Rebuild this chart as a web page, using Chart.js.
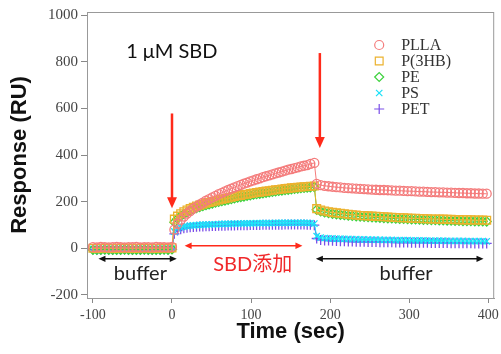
<!DOCTYPE html>
<html>
<head>
<meta charset="utf-8">
<script src="https://cdn.jsdelivr.net/npm/chart.js@4.4.1/dist/chart.umd.min.js"></script>
<style>
  html, body { margin: 0; padding: 0; background: #fff; }
  #wrap { width: 501px; height: 354px; }
</style>
</head>
<body>
<div id="wrap"><canvas id="spr"></canvas></div>
<script>
// time points (sec): buffer baseline, SBD injection, buffer wash
const timeSec = [
  -100, -95, -90, -85, -80, -75, -70, -65, -60, -55, -50, -45, -40, -35, -30, -25, -20, -15, -10, -5, 0,
  3, 7, 11, 15, 19, 23, 27, 31, 35, 39, 43, 47, 51, 55, 59, 63, 67, 71, 75, 79, 83, 87, 91, 95, 99,
  103, 107, 111, 115, 119, 123, 127, 131, 135, 139, 143, 147, 151, 155, 159, 163, 167, 171, 175, 180,
  183, 188, 193, 198, 203, 208, 213, 218, 223, 228, 233, 238, 243, 248, 253, 258, 263, 268, 273, 278,
  283, 288, 293, 298, 303, 308, 313, 318, 323, 328, 333, 338, 343, 348, 353, 358, 363, 368, 373, 378,
  383, 388, 393, 398
];

const plla = [
  5, 4, 6, 5, 4, 5, 6, 5, 4, 5, 5, 6, 4, 5, 5, 4, 6, 5, 5, 4, 6,
  80, 105, 122, 136, 149, 160, 170, 179, 188, 196, 204, 211, 218, 225, 232, 238, 244, 250, 256, 261,
  267, 272, 277, 282, 287, 291, 296, 300, 305, 309, 313, 317, 321, 325, 329, 333, 337, 340, 344, 347,
  351, 354, 357, 362, 366,
  276, 271, 268, 266, 264, 262, 261, 259, 258, 257, 256, 255, 254, 253, 252, 251, 250, 250, 249, 248,
  247, 247, 246, 245, 245, 244, 243, 243, 242, 241, 241, 240, 240, 239, 239, 238, 237, 237, 236, 236,
  235, 235, 234, 234
];

const p3hb = [
  0, -1, 0, 1, 0, -1, 0, 0, 1, 0, -1, 0, 0, 1, 0, -1, 0, 0, 1, 0, 2,
  125, 138, 148, 157, 164, 170, 176, 181, 185, 189, 193, 197, 200, 203, 207, 210, 213, 216, 219, 222,
  225, 227, 230, 232, 235, 237, 239, 241, 243, 245, 247, 249, 251, 252, 254, 256, 257, 259, 260, 262,
  263, 264, 265, 266, 267,
  170, 164, 160, 157, 154, 152, 150, 148, 146, 144, 143, 141, 140, 139, 138, 137, 136, 135, 134, 133,
  132, 131, 131, 130, 129, 129, 128, 127, 127, 126, 126, 125, 125, 124, 124, 123, 123, 122, 122, 122,
  121, 121, 121, 120
];

const pe = [
  -6, -7, -6, -5, -6, -7, -6, -6, -5, -6, -7, -6, -6, -5, -6, -7, -6, -6, -5, -6, -4,
  112, 127, 138, 147, 155, 161, 167, 172, 177, 181, 185, 189, 192, 196, 199, 202, 205, 208, 211, 214,
  217, 220, 222, 225, 227, 230, 232, 234, 236, 238, 240, 242, 244, 246, 248, 250, 251, 253, 255, 256,
  258, 259, 260, 261, 262,
  165, 158, 154, 151, 148, 146, 144, 142, 140, 139, 137, 136, 135, 134, 133, 132, 131, 130, 129, 128,
  127, 126, 126, 125, 124, 124, 123, 122, 122, 121, 121, 120, 120, 119, 119, 118, 118, 117, 117, 117,
  116, 116, 116, 115
];

const ps = [
  -3, -2, -3, -4, -3, -2, -3, -3, -2, -3, -4, -3, -3, -2, -3, -4, -3, -3, -2, -3, -1,
  72, 85, 90, 93, 95, 97, 98, 99, 100, 101, 102, 102, 103, 103, 104, 104, 105, 105, 105, 106,
  106, 106, 107, 107, 107, 107, 108, 108, 108, 108, 108, 108, 109, 109, 109, 109, 109, 109, 109, 109,
  109, 109, 109, 108, 106,
  52, 46, 44, 43, 42, 41, 41, 40, 40, 39, 39, 38, 38, 38, 37, 37, 37, 36, 36, 36,
  35, 35, 35, 35, 34, 34, 34, 34, 33, 33, 33, 33, 33, 32, 32, 32, 32, 32, 31, 31,
  31, 31, 31, 30
];

const pet = [
  -5, -6, -5, -4, -5, -6, -5, -5, -4, -5, -6, -5, -5, -4, -5, -6, -5, -5, -4, -5, -3,
  62, 76, 82, 86, 88, 90, 91, 92, 93, 94, 95, 95, 96, 96, 97, 97, 97, 98, 98, 98,
  99, 99, 99, 99, 100, 100, 100, 100, 101, 101, 101, 101, 101, 101, 101, 102, 102, 102, 102, 102,
  102, 102, 101, 101, 99,
  42, 36, 34, 33, 32, 31, 30, 30, 29, 29, 28, 28, 28, 27, 27, 27, 26, 26, 26, 26,
  25, 25, 25, 25, 24, 24, 24, 24, 24, 23, 23, 23, 23, 23, 22, 22, 22, 22, 22, 22,
  21, 21, 21, 21
];

const seriesNames = ['PLLA', 'P(3HB)', 'PE', 'PS', 'PET'];
const seriesValues = [plla, p3hb, pe, ps, pet];
const seriesColors = ['#f47c7c', '#ecb22e', '#3cd23c', '#18e0f8', '#7a4ee8'];
const seriesMarkers = ['circle', 'rect', 'rectRot', 'crossRot', 'cross'];
const seriesRadius = [4.5, 5.5, 4.5, 4.5, 5];

const xTicks = [-100, 0, 100, 200, 300, 400];
const yTicks = [-200, 0, 200, 400, 600, 800, 1000];

// annotations in data units (time, RU)
const notes = [
  { kind: 'arrow', x1: 0, y1: 578, x2: 0, y2: 172, color: '#ff2a1a', lw: 2.5, head: 11, ends: 'end' },
  { kind: 'arrow', x1: 187, y1: 837, x2: 187, y2: 430, color: '#ff2a1a', lw: 2.5, head: 11, ends: 'end' },
  { kind: 'arrow', x1: -93, y1: -45, x2: 6, y2: -45, color: '#111', lw: 1.5, head: 7, ends: 'both' },
  { kind: 'arrow', x1: 16, y1: 11, x2: 165, y2: 11, color: '#ff2a1a', lw: 1.5, head: 7, ends: 'both' },
  { kind: 'arrow', x1: 182, y1: -45, x2: 394, y2: -45, color: '#111', lw: 1.5, head: 7, ends: 'both' },
  { kind: 'text', x: -58, y: 845, text: '1 μM SBD', color: '#111', align: 'left' },
  { kind: 'text', x: -40, y: -110, text: 'buffer', color: '#222', align: 'center' },
  { kind: 'text', x: 102, y: -71, text: 'SBD添加', color: '#f0282a', align: 'center' },
  { kind: 'text', x: 296, y: -107, text: 'buffer', color: '#222', align: 'center' }
];

/* ==================== PLUGINS ==================== */

function drawHead(ctx, x, y, ang, size) {
    ctx.beginPath();
    ctx.moveTo(x, y);
    ctx.lineTo(x - size * Math.cos(ang) + size * 0.45 * Math.sin(ang), y - size * Math.sin(ang) - size * 0.45 * Math.cos(ang));
    ctx.lineTo(x - size * Math.cos(ang) - size * 0.45 * Math.sin(ang), y - size * Math.sin(ang) + size * 0.45 * Math.cos(ang));
    ctx.closePath();
    ctx.fill();
}

const notesPlugin = {
    id: 'notes',
    afterDatasetsDraw(chart) {
        const ctx = chart.ctx;
        const xs = chart.scales.x, ys = chart.scales.y;
        ctx.save();
        notes.forEach(n => {
            if (n.kind === 'arrow') {
                const x1 = xs.getPixelForValue(n.x1), y1 = ys.getPixelForValue(n.y1);
                const x2 = xs.getPixelForValue(n.x2), y2 = ys.getPixelForValue(n.y2);
                const ang = Math.atan2(y2 - y1, x2 - x1);
                const dx = Math.cos(ang) * n.head * 0.8, dy = Math.sin(ang) * n.head * 0.8;
                ctx.strokeStyle = n.color;
                ctx.fillStyle = n.color;
                ctx.lineWidth = n.lw;
                ctx.beginPath();
                ctx.moveTo(n.ends === 'both' ? x1 + dx : x1, n.ends === 'both' ? y1 + dy : y1);
                ctx.lineTo(x2 - dx, y2 - dy);
                ctx.stroke();
                drawHead(ctx, x2, y2, ang, n.head);
                if (n.ends === 'both') drawHead(ctx, x1, y1, ang + Math.PI, n.head);
            } else {
                ctx.fillStyle = n.color;
                ctx.font = '20px Lato, "Noto Sans CJK JP", sans-serif';
                ctx.textAlign = n.align;
                ctx.textBaseline = 'middle';
                ctx.fillText(n.text, xs.getPixelForValue(n.x), ys.getPixelForValue(n.y));
            }
        });
        ctx.restore();
    },
    afterDraw(chart) {
        const ctx = chart.ctx;
        const area = chart.chartArea;
        ctx.save();
        // frame
        ctx.strokeStyle = '#999';
        ctx.lineWidth = 1;
        ctx.strokeRect(area.left + 0.5, area.top + 0.5, area.right - area.left - 1, area.bottom - area.top);

        // legend
        const lx = area.right - 115, ly = area.top + 33;
        ctx.font = '16px "Liberation Serif", serif';
        ctx.textBaseline = 'middle';
        ctx.textAlign = 'left';
        chart.data.datasets.forEach((ds, i) => {
            const y = ly + i * 16;
            ctx.strokeStyle = ds.borderColor;
            ctx.fillStyle = 'rgba(0,0,0,0)';
            ctx.lineWidth = 1.2;
            Chart.helpers.drawPoint(ctx, {
                pointStyle: ds.pointStyle,
                radius: ds.pointRadius,
                rotation: 0,
                borderWidth: 1.2
            }, lx, y);
            ctx.fillStyle = '#333';
            ctx.fillText(ds.label, lx + 22, y + 1);
        });
        ctx.restore();
    }
};

/* ==================== CHART ==================== */

const datasets = seriesNames.map((name, i) => ({
    label: name,
    data: timeSec.map((t, k) => ({ x: t, y: seriesValues[i][k] })),
    borderColor: seriesColors[i],
    backgroundColor: 'rgba(0,0,0,0)',
    borderWidth: 1,
    pointStyle: seriesMarkers[i],
    pointRadius: seriesRadius[i],
    pointBorderWidth: 1.3,
    pointBorderColor: seriesColors[i],
    pointBackgroundColor: 'rgba(0,0,0,0)',
    tension: 0,
    fill: false
}));

new Chart(document.getElementById('spr').getContext('2d'), {
    type: 'line',
    data: { datasets },
    options: {
        responsive: true,
        maintainAspectRatio: false,
        animation: false,
        layout: { padding: { top: 12, right: 5, left: 0, bottom: 0 } },
        plugins: {
            legend: { display: false },
            tooltip: { enabled: false }
        },
        scales: {
            x: {
                type: 'linear',
                min: -107.5,
                max: 407.5,
                afterBuildTicks: s => { s.ticks = xTicks.map(v => ({ value: v })); },
                afterFit: s => { s.height = 56; s.paddingLeft = 0; s.paddingRight = 0; },
                border: { display: true, color: '#999' },
                grid: { drawOnChartArea: false, drawTicks: true, tickLength: 5, color: '#888' },
                ticks: {
                    color: '#444',
                    padding: 4,
                    maxRotation: 0,
                    callback: v => String(v),
                    font: { family: '"Liberation Serif", serif', size: 14 }
                },
                title: {
                    display: true,
                    text: 'Time (sec)',
                    color: '#111',
                    padding: { top: 0, bottom: 11 },
                    font: { family: '"Liberation Sans", Arial, sans-serif', size: 22, weight: 'bold', lineHeight: 1 }
                }
            },
            y: {
                min: -213,
                max: 1013,
                afterBuildTicks: s => { s.ticks = yTicks.map(v => ({ value: v })); },
                afterFit: s => { s.width = 87; s.paddingTop = 0; s.paddingBottom = 0; },
                border: { display: true, color: '#999' },
                grid: { drawOnChartArea: false, drawTicks: true, tickLength: 6, color: '#888' },
                ticks: {
                    color: '#444',
                    padding: 3,
                    callback: v => String(v),
                    font: { family: '"Liberation Serif", serif', size: 15 }
                },
                title: {
                    display: true,
                    text: 'Response (RU)',
                    color: '#111',
                    padding: { top: 9, bottom: 0 },
                    font: { family: '"Liberation Sans", Arial, sans-serif', size: 22, weight: 'bold', lineHeight: 1 }
                }
            }
        }
    },
    plugins: [notesPlugin]
});
</script>
</body>
</html>
